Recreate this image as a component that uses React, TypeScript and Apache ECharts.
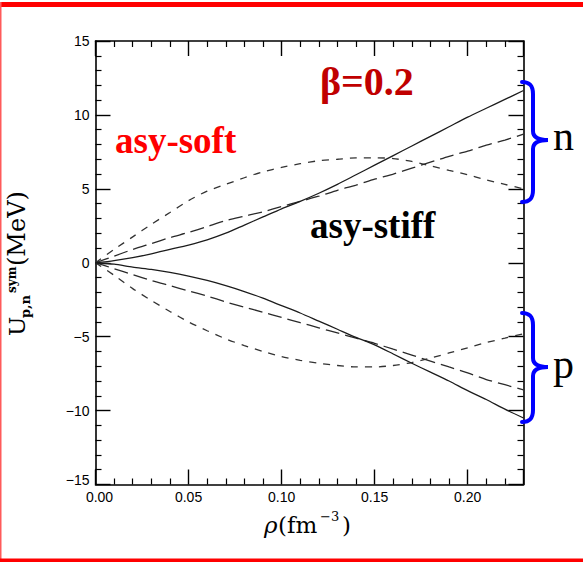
import React, { useEffect, useRef } from "react";
import * as echarts from "echarts";

// density grid (fm^-3)
const rho = [
  0, 0.01, 0.02, 0.03, 0.04, 0.05, 0.06, 0.07, 0.08, 0.09, 0.1, 0.11,
  0.12, 0.13, 0.14, 0.15, 0.16, 0.17, 0.18, 0.19, 0.2, 0.21, 0.22, 0.23,
];

// neutron symmetry potential (MeV)
const nSoft = [
  0, 0.9, 1.75, 2.6, 3.4, 4.2, 4.85, 5.3, 5.75, 6.15, 6.45, 6.7, 6.9, 7.0,
  7.1, 7.1, 7.05, 6.85, 6.55, 6.25, 5.95, 5.6, 5.3, 5.0,
];
const nStiff = [
  0, 0.45, 0.9, 1.3, 1.7, 2.05, 2.45, 2.85, 3.15, 3.45, 3.8, 4.15, 4.5, 4.9,
  5.25, 5.65, 6.0, 6.4, 6.8, 7.2, 7.55, 7.95, 8.3, 8.7,
];
const nSuperStiff = [
  0, 0.15, 0.35, 0.6, 0.9, 1.2, 1.55, 2.0, 2.55, 3.1, 3.65, 4.15, 4.7, 5.3,
  5.95, 6.6, 7.25, 7.9, 8.55, 9.2, 9.85, 10.45, 11.05, 11.65,
];

// proton symmetry potential (MeV)
const pSoft = [
  0, -0.85, -1.75, -2.55, -3.3, -4.0, -4.6, -5.15, -5.6, -6.0, -6.35, -6.6,
  -6.8, -6.95, -7.05, -7.05, -6.95, -6.75, -6.45, -6.1, -5.75, -5.4, -5.1, -4.8,
];
const pStiff = [
  0, -0.4, -0.8, -1.2, -1.55, -1.9, -2.25, -2.65, -3.0, -3.35, -3.7, -4.05,
  -4.4, -4.75, -5.1, -5.45, -5.85, -6.25, -6.65, -7.05, -7.45, -7.9, -8.25, -8.6,
];
const pSuperStiff = [
  0, -0.1, -0.3, -0.45, -0.65, -0.9, -1.2, -1.55, -1.95, -2.4, -2.9, -3.4,
  -3.95, -4.5, -5.05, -5.55, -6.17, -6.8, -7.4, -8.0, -8.65, -9.25, -9.9, -10.5,
];

const xTicks = [0, 0.05, 0.1, 0.15, 0.2];
const yTicks = [-15, -10, -5, 0, 5, 10, 15];

// curly brace outline: ends at xEnd, spine at xSpine, tip at xTip
function bracePath(yTop: number, yMid: number, yBot: number) {
  const xEnd = 522;
  const xSpine = 533;
  const xTip = 548;
  return [
    `M${xEnd},${yTop}`,
    `C${xEnd + 7},${yTop} ${xSpine},${yTop + 3} ${xSpine},${yTop + 12}`,
    `L${xSpine},${yMid - 9}`,
    `C${xSpine},${yMid - 3} ${xSpine + 5},${yMid} ${xTip},${yMid}`,
    `C${xSpine + 5},${yMid} ${xSpine},${yMid + 3} ${xSpine},${yMid + 9}`,
    `L${xSpine},${yBot - 12}`,
    `C${xSpine},${yBot - 3} ${xEnd + 7},${yBot} ${xEnd},${yBot}`,
  ].join(" ");
}

echarts.graphic.registerShape(
  "braceN",
  echarts.graphic.extendPath(bracePath(82, 140, 202), {}) as any
);
echarts.graphic.registerShape(
  "braceP",
  echarts.graphic.extendPath(bracePath(313, 367, 422), {}) as any
);

const minus = (v: number) => String(v).replace("-", "\u2212");

const labelFont = { color: "#000", fontSize: 14, fontFamily: "Liberation Sans" };

function makeXAxis(position: "bottom" | "top", labels: boolean) {
  return {
    type: "value",
    position,
    min: 0,
    max: 0.23,
    interval: 0.05,
    axisLine: { show: true, onZero: false, lineStyle: { color: "#000", width: 1.6 } },
    axisTick: { show: true, inside: true, length: 15, lineStyle: { color: "#000", width: 1.4 } },
    minorTick: { show: true, splitNumber: 5, length: 6, lineStyle: { color: "#000", width: 1.2 } },
    splitLine: { show: false },
    axisLabel: {
      show: labels,
      showMaxLabel: false,
      margin: 5,
      ...labelFont,
      formatter: (v: number) =>
        xTicks.includes(Number(v.toFixed(2)))
          ? v === 0
            ? "{z|0.00}"
            : v.toFixed(2)
          : "",
      rich: {
        z: { padding: [0, 0, 0, 8], ...labelFont },
      },
    },
  };
}

function makeYAxis(position: "left" | "right", labels: boolean) {
  return {
    type: "value",
    position,
    min: -15,
    max: 15,
    interval: 5,
    axisLine: { show: true, onZero: false, lineStyle: { color: "#000", width: 1.6 } },
    axisTick: { show: true, inside: true, length: 15, lineStyle: { color: "#000", width: 1.4 } },
    minorTick: { show: true, splitNumber: 5, length: 6, lineStyle: { color: "#000", width: 1.2 } },
    splitLine: { show: false },
    axisLabel: {
      show: labels,
      margin: 6,
      ...labelFont,
      formatter: (v: number) =>
        yTicks.includes(v) ? (v === -15 ? "{lo|" + minus(v) + "}" : minus(v)) : "",
      rich: {
        lo: { padding: [0, 0, 9, 0], ...labelFont },
      },
    },
  };
}

function curve(name: string, values: number[], kind: "solid" | "long" | "short") {
  const styles = {
    solid: { color: "#1c1c1c", width: 1.3, type: "solid" as any },
    long: { color: "#2a2a2a", width: 1.3, type: [14, 6] as any },
    short: { color: "#333333", width: 1.3, type: [7, 7] as any },
  };
  return {
    name,
    type: "line",
    xAxisIndex: 0,
    yAxisIndex: 0,
    data: rho.map((r, i) => [r, values[i]]),
    showSymbol: false,
    smooth: 0.25,
    lineStyle: styles[kind],
    itemStyle: { color: styles[kind].color },
    silent: true,
  };
}

const serif = "DejaVu Serif";

function textEl(
  text: string,
  x: number,
  y: number,
  fontSize: number,
  opts: { fill?: string; weight?: string; family?: string; italic?: boolean } = {}
) {
  return {
    type: "text",
    x,
    y,
    style: {
      text,
      fontSize,
      fontWeight: opts.weight || "normal",
      fontStyle: opts.italic ? "italic" : "normal",
      fontFamily: opts.family || serif,
      fill: opts.fill || "#000",
      align: "left",
      verticalAlign: "middle",
    },
  };
}

export default function App() {
  const ref = useRef<HTMLDivElement>(null);

  useEffect(() => {
    if (!ref.current) return;
    const chart = echarts.init(ref.current, undefined, { renderer: "svg" });
    chart.setOption({
      animation: false,
      backgroundColor: "#fff",
      grid: { left: 95.5, right: 59.5, top: 41, bottom: 77.5, containLabel: false },
      xAxis: [makeXAxis("bottom", true), makeXAxis("top", false)],
      yAxis: [makeYAxis("left", true), makeYAxis("right", false)],
      series: [
        curve("n, asy-soft", nSoft, "short"),
        curve("n, asy-stiff", nStiff, "long"),
        curve("n, asy-superstiff", nSuperStiff, "solid"),
        curve("p, asy-soft", pSoft, "short"),
        curve("p, asy-stiff", pStiff, "long"),
        curve("p, asy-superstiff", pSuperStiff, "solid"),
      ],
      graphic: [
        // frame
        { type: "rect", shape: { x: 0, y: 2, width: 583, height: 5 }, style: { fill: "#ff0000" } },
        { type: "rect", shape: { x: 0, y: 2, width: 1.5, height: 559 }, style: { fill: "#ff5a5a" } },
        { type: "rect", shape: { x: 0, y: 558.5, width: 583, height: 3.5 }, style: { fill: "#ff0000" } },
        // annotations
        textEl("\u03b2=0.2", 320, 81.4, 40, { fill: "#c00000", weight: "bold", family: "Liberation Serif" }),
        textEl("asy-soft", 115, 140.4, 37, { fill: "#ff0000", weight: "bold", family: "Liberation Serif" }),
        textEl("asy-stiff", 310, 225.4, 37, { fill: "#000", weight: "bold", family: "Liberation Serif" }),
        textEl("n", 553, 135.7, 42, { family: "Liberation Serif" }),
        textEl("p", 553, 363.7, 42, { family: "Liberation Serif" }),
        {
          type: "braceN",
          style: { stroke: "#0000ff", lineWidth: 4, fill: "none", lineCap: "round" },
          z: 10,
        },
        {
          type: "braceP",
          style: { stroke: "#0000ff", lineWidth: 4, fill: "none", lineCap: "round" },
          z: 10,
        },
        // x axis title
        textEl("\u03c1", 264, 525, 23, { italic: true }),
        textEl("(fm", 278, 525, 23),
        textEl("\u22123", 320, 516, 13),
        textEl(")", 342, 525, 23),
        // y axis title, rotated to read bottom-up
        {
          type: "group",
          x: 25,
          y: 336,
          rotation: Math.PI / 2,
          children: [
            textEl("U", 0, -8, 23),
            textEl("p,n", 18, 0.6, 13, { weight: "bold" }),
            textEl("sym", 43, -13.1, 12, { weight: "bold" }),
            textEl("(MeV)", 70, -8, 24),
          ],
        },
      ],
    });
    return () => chart.dispose();
  }, []);

  return (
    <div
      ref={ref}
      style={{ position: "absolute", left: 0, top: 0, width: 583, height: 562 }}
    />
  );
}
